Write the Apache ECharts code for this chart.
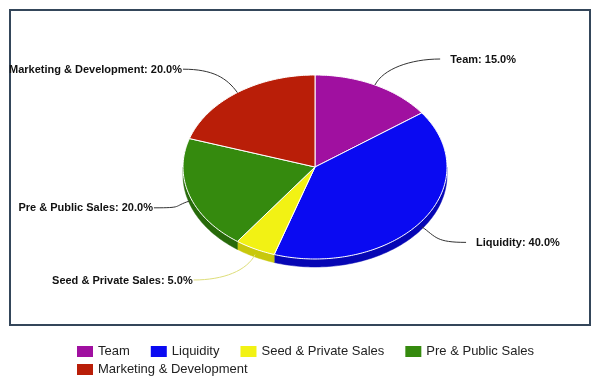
<!DOCTYPE html>
<html>
<head>
<meta charset="utf-8">
<script src="https://cdn.jsdelivr.net/npm/echarts@6/dist/echarts.min.js"></script>
<style>html,body{margin:0;padding:0;background:#fff}#c{width:600px;height:384px}</style>
</head>
<body>
<div id="c"></div>
<script>
// ---- data ----
const categories = ['Team', 'Liquidity', 'Seed & Private Sales', 'Pre & Public Sales', 'Marketing & Development'];
const shares = [15, 40, 5, 20, 20];

// ---- styles ----
const colors = ['#a010a0', '#0a0af2', '#f2f214', '#358a0e', '#b91e08'];
const sideColors = ['#780878', '#0606b4', '#c8c80c', '#276a0a', '#8a1606'];
const linkColors = ['#333', '#333', '#dede7a', '#333', '#333'];

const total = shares.reduce((a, b) => a + b, 0);
const cum = [];
shares.reduce((acc, v, i) => { cum[i] = acc; return acc + v; }, 0);

const CX = 315, CY = 167, RX = 132, RY = 92, DEPTH = 8;
function pt(deg, dy) {
  const r = deg * Math.PI / 180;
  return [CX + RX * Math.sin(r), CY - RY * Math.cos(r) + (dy || 0)];
}
function rim(a, b, dy) {
  const pts = [];
  const n = Math.max(2, Math.ceil(Math.abs(b - a)));
  for (let k = 0; k <= n; k++) pts.push(pt(a + (b - a) * k / n, dy));
  return pts;
}

function renderItem(params, api) {
  const i = params.dataIndex;
  const v = api.value(0);
  const start = cum[i] / total * 360;
  const end = start + v / total * 360;
  const children = [];
  const a = Math.max(start, 90), b = Math.min(end, 270);
  if (a < b) {
    const side = rim(a, b, 0).concat(rim(b, a, DEPTH));
    children.push({ type: 'polygon', shape: { points: side }, style: { fill: sideColors[i], stroke: sideColors[i], lineWidth: 0.5 } });
  }
  const top = [[CX, CY]].concat(rim(start, end, 0));
  children.push({ type: 'polygon', shape: { points: top }, style: { fill: colors[i], stroke: '#ffffff', lineWidth: 1 } });

  const mid = (start + end) / 2;
  const r = mid * Math.PI / 180;
  const s = Math.sin(r), c = Math.cos(r);
  const E = pt(mid, c < 0 ? DEPTH * 0.7 : 0);
  const right = s >= 0;
  const dir = right ? 1 : -1;
  const off = right ? (92 + 73 * Math.abs(s)) : (85 + 80 * Math.abs(s));
  const A = [CX + dir * off, CY - 124 * c + 2.5];
  children.push({
    type: 'bezierCurve',
    shape: {
      x1: E[0], y1: E[1],
      cpx1: E[0] + s * 18, cpy1: E[1] - c * 18,
      cpx2: A[0] - dir * 30, cpy2: A[1],
      x2: A[0], y2: A[1]
    },
    style: { stroke: linkColors[i], lineWidth: 1, fill: null }
  });
  const pct = (v / total * 100).toFixed(1);
  children.push({
    type: 'text',
    style: {
      text: categories[i] + ': ' + pct + '%',
      x: right ? A[0] + 10 : A[0] - 1,
      y: A[1] + 0.5,
      align: right ? 'left' : 'right',
      verticalAlign: 'middle',
      font: 'bold 11px "Liberation Sans", Arial, sans-serif',
      fill: '#111'
    }
  });
  return { type: 'group', children: children };
}

const chart = echarts.init(document.getElementById('c'), null, { renderer: 'canvas' });
const legendCommon = {
  orient: 'horizontal', left: 77, itemWidth: 16, itemHeight: 11, itemGap: 21,
  icon: 'rect', selectedMode: false, padding: 0,
  itemStyle: { borderWidth: 0 },
  textStyle: { fontFamily: '"Liberation Sans", Arial, sans-serif', fontSize: 13, color: '#222', padding: [0, 0, 0, 0] }
};
chart.setOption({
  backgroundColor: '#ffffff',
  animation: false,
  graphic: [{
    type: 'rect', shape: { x: 10, y: 10, width: 580, height: 315 },
    style: { fill: '#ffffff', stroke: '#34465a', lineWidth: 2 }, z: -10, silent: true
  }],
  legend: [
    Object.assign({}, legendCommon, { data: categories.slice(0, 4), top: 345 }),
    Object.assign({}, legendCommon, { data: categories.slice(4), top: 363 })
  ],
  series: [
    {
      type: 'custom',
      coordinateSystem: 'none',
      renderItem: renderItem,
      data: shares.map((v, i) => ({ name: categories[i], value: [v] })),
      silent: true,
      z: 2
    },
    {
      type: 'pie',
      radius: [0, 0],
      center: [CX, CY],
      silent: true,
      label: { show: false },
      labelLine: { show: false },
      data: shares.map((v, i) => ({ name: categories[i], value: v, itemStyle: { color: colors[i] } }))
    }
  ]
});
</script>
</body>
</html>
